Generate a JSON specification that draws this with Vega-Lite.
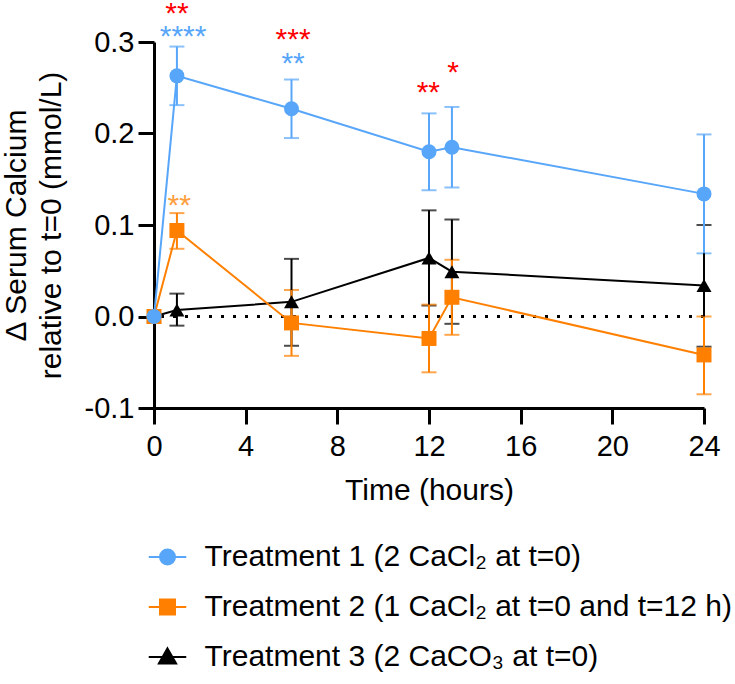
{
  "$schema": "https://vega.github.io/schema/vega-lite/v6.json",
  "width": 550,
  "height": 366,
  "autosize": {"type": "none"},
  "padding": {"left": 154, "top": 42, "right": 31, "bottom": 276},
  "config": {
    "font": "Liberation Sans",
    "view": {"stroke": null},
    "axis": {"grid": false, "domainColor": "black", "domainWidth": 3, "tickColor": "black", "tickWidth": 3, "labelColor": "black", "titleColor": "black", "labelFontSize": 29, "titleFontSize": 30, "titleFontWeight": "normal", "labelFlush": false, "labelOverlap": false},
    "legend": {"orient": "none", "legendX": -1.5, "legendY": 500, "direction": "vertical", "title": null, "padding": 0,
      "symbolSize": 225, "labelFontSize": 30, "labelColor": "black", "labelOffset": 22, "rowPadding": 20, "labelLimit": 0}
  },
  "datasets": {
    "series": [
      {"treatment": "Treatment 3 (2 CaCO₃ at t=0)", "time": 0, "mean": 0, "lo": null, "hi": null},
      {"treatment": "Treatment 3 (2 CaCO₃ at t=0)", "time": 1, "mean": 0.007, "lo": -0.010, "hi": 0.025},
      {"treatment": "Treatment 3 (2 CaCO₃ at t=0)", "time": 6, "mean": 0.016, "lo": -0.032, "hi": 0.063},
      {"treatment": "Treatment 3 (2 CaCO₃ at t=0)", "time": 12, "mean": 0.064, "lo": 0.012, "hi": 0.116},
      {"treatment": "Treatment 3 (2 CaCO₃ at t=0)", "time": 13, "mean": 0.049, "lo": -0.008, "hi": 0.106},
      {"treatment": "Treatment 3 (2 CaCO₃ at t=0)", "time": 24, "mean": 0.034, "lo": -0.033, "hi": 0.100},
      {"treatment": "Treatment 2 (1 CaCl₂ at t=0 and t=12 h)", "time": 0, "mean": 0, "lo": null, "hi": null},
      {"treatment": "Treatment 2 (1 CaCl₂ at t=0 and t=12 h)", "time": 1, "mean": 0.094, "lo": 0.074, "hi": 0.113},
      {"treatment": "Treatment 2 (1 CaCl₂ at t=0 and t=12 h)", "time": 6, "mean": -0.007, "lo": -0.043, "hi": 0.029},
      {"treatment": "Treatment 2 (1 CaCl₂ at t=0 and t=12 h)", "time": 12, "mean": -0.024, "lo": -0.061, "hi": 0.013},
      {"treatment": "Treatment 2 (1 CaCl₂ at t=0 and t=12 h)", "time": 13, "mean": 0.021, "lo": -0.020, "hi": 0.062},
      {"treatment": "Treatment 2 (1 CaCl₂ at t=0 and t=12 h)", "time": 24, "mean": -0.042, "lo": -0.085, "hi": 0.000},
      {"treatment": "Treatment 1 (2 CaCl₂ at t=0)", "time": 0, "mean": 0, "lo": null, "hi": null},
      {"treatment": "Treatment 1 (2 CaCl₂ at t=0)", "time": 1, "mean": 0.263, "lo": 0.231, "hi": 0.295},
      {"treatment": "Treatment 1 (2 CaCl₂ at t=0)", "time": 6, "mean": 0.227, "lo": 0.195, "hi": 0.259},
      {"treatment": "Treatment 1 (2 CaCl₂ at t=0)", "time": 12, "mean": 0.180, "lo": 0.138, "hi": 0.222},
      {"treatment": "Treatment 1 (2 CaCl₂ at t=0)", "time": 13, "mean": 0.185, "lo": 0.141, "hi": 0.229},
      {"treatment": "Treatment 1 (2 CaCl₂ at t=0)", "time": 24, "mean": 0.134, "lo": 0.069, "hi": 0.199}
    ],
    "stars": [
      {"comparison": "between", "time": 1.0, "y": 0.334, "stars": "**"},
      {"comparison": "t1", "time": 1.27, "y": 0.309, "stars": "****"},
      {"comparison": "between", "time": 6.07, "y": 0.306, "stars": "***"},
      {"comparison": "t1", "time": 6.07, "y": 0.279, "stars": "**"},
      {"comparison": "between", "time": 11.97, "y": 0.247, "stars": "**"},
      {"comparison": "between", "time": 13.05, "y": 0.269, "stars": "*"},
      {"comparison": "t2", "time": 1.1, "y": 0.124, "stars": "**"}
    ]
  },
  "encoding": {
    "x": {"field": "time", "type": "quantitative", "scale": {"domain": [0, 24], "nice": false, "zero": false},
      "axis": {"values": [0, 4, 8, 12, 16, 20, 24], "tickSize": 16, "labelPadding": 8, "titlePadding": 14}, "title": "Time (hours)"}
  },
  "layer": [
    {
      "data": {"name": "series"},
      "mark": {"type": "rule", "color": "black", "strokeWidth": 3, "strokeDash": [3, 9]},
      "encoding": {"y": {"datum": 0}, "x": null}
    },
    {
      "data": {"name": "series"},
      "encoding": {
        "y": {"type": "quantitative", "scale": {"domain": [-0.1, 0.3], "nice": false, "zero": false},
          "axis": {"values": [-0.1, 0, 0.1, 0.2, 0.3], "tickSize": 16, "labelPadding": 4, "titlePadding": 18, "titleLineHeight": 35,
            "labelExpr": "replace(format(datum.value, '.1f'), '\u2212', '-')"},
          "title": ["Δ Serum Calcium", "relative to t=0 (mmol/L)"]},
        "color": {"field": "treatment", "type": "nominal",
          "scale": {"domain": ["Treatment 1 (2 CaCl₂ at t=0)", "Treatment 2 (1 CaCl₂ at t=0 and t=12 h)", "Treatment 3 (2 CaCO₃ at t=0)"], "range": ["#58A6F9", "#FF8000", "#000000"]},
          "legend": {
            "encode": {"symbols": {"update": {
              "shape": {"signal": "indexof(datum.value, 'Treatment 1') === 0 ? 'M-2.5,0H2.5M1,0A1,1 0 1 1 -1,0A1,1 0 1 1 1,0Z' : indexof(datum.value, 'Treatment 2') === 0 ? 'M-2.5,0H2.5M-1,-1H1V1H-1Z' : 'M-2.5,0H2.5M0,-1.15L1.15,0.85H-1.15Z'"},
              "stroke": {"scale": "color", "field": "value"},
              "fill": {"scale": "color", "field": "value"},
              "strokeWidth": {"value": 2},
              "size": {"value": 225},
              "opacity": {"value": 1}
            }}}}}
      },
      "layer": [
        {
          "mark": {"type": "errorbar", "ticks": true, "size": 15, "thickness": 2},
          "encoding": {"y": {"field": "lo"}, "y2": {"field": "hi"}}
        },
        {
          "mark": {"type": "line", "strokeWidth": 2},
          "encoding": {"y": {"field": "mean"}}
        },
        {
          "transform": [{"filter": "indexof(datum.treatment, 'Treatment 3') === 0"}],
          "mark": {"type": "point", "filled": true, "opacity": 1, "size": 225, "shape": "triangle-up"},
          "encoding": {"y": {"field": "mean"}}
        },
        {
          "transform": [{"filter": "indexof(datum.treatment, 'Treatment 2') === 0"}],
          "mark": {"type": "point", "filled": true, "opacity": 1, "size": 225, "shape": "square"},
          "encoding": {"y": {"field": "mean"}}
        },
        {
          "transform": [{"filter": "indexof(datum.treatment, 'Treatment 1') === 0"}],
          "mark": {"type": "point", "filled": true, "opacity": 1, "size": 225, "shape": "circle"},
          "encoding": {"y": {"field": "mean"}}
        }
      ]
    },
    {
      "data": {"name": "stars"},
      "transform": [{"filter": "datum.comparison === 'between'"}],
      "mark": {"type": "text", "color": "#FF0000", "fontSize": 30, "align": "center", "baseline": "alphabetic", "dy": 12},
      "encoding": {
        "y": {"field": "y", "type": "quantitative", "title": ["Δ Serum Calcium", "relative to t=0 (mmol/L)"]},
        "text": {"field": "stars"}
      }
    },
    {
      "data": {"name": "stars"},
      "transform": [{"filter": "datum.comparison === 't1'"}],
      "mark": {"type": "text", "color": "#58A6F9", "fontSize": 30, "align": "center", "baseline": "alphabetic", "dy": 12},
      "encoding": {
        "y": {"field": "y", "type": "quantitative", "title": ["Δ Serum Calcium", "relative to t=0 (mmol/L)"]},
        "text": {"field": "stars"}
      }
    },
    {
      "data": {"name": "stars"},
      "transform": [{"filter": "datum.comparison === 't2'"}],
      "mark": {"type": "text", "color": "#FF9F40", "fontSize": 30, "align": "center", "baseline": "alphabetic", "dy": 12},
      "encoding": {
        "y": {"field": "y", "type": "quantitative", "title": ["Δ Serum Calcium", "relative to t=0 (mmol/L)"]},
        "text": {"field": "stars"}
      }
    }
  ]
}
